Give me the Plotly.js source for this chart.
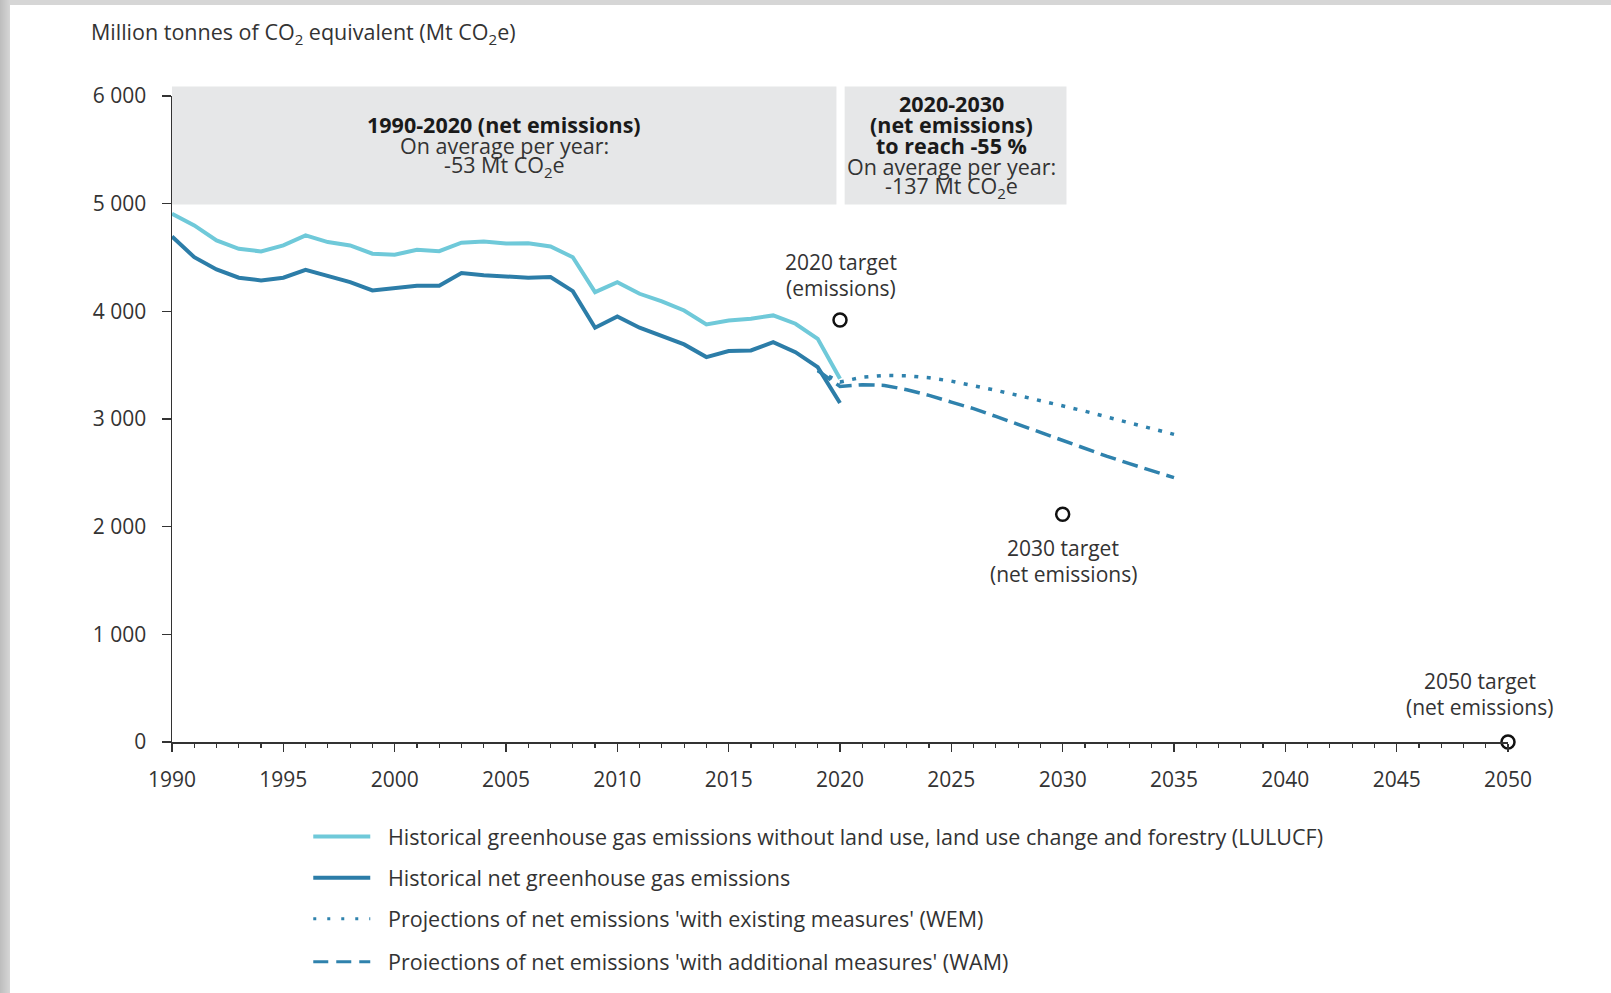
<!DOCTYPE html>
<html>
<head>
<meta charset="utf-8">
<script src="https://cdn.plot.ly/plotly-3.0.1.min.js"></script>
<style>
  html, body { margin: 0; padding: 0; }
  body { width: 1611px; height: 993px; background: linear-gradient(to right, #bdbdbd 0px, #d6d6d6 10px, #d6d6d6 100%); position: relative; overflow: hidden; }
  #chart { position: absolute; left: 10px; top: 5px; width: 1601px; height: 988px; background: #fff; }
</style>
</head>
<body>
<div id="chart"></div>
<script>
// ---------------- data ----------------
const histYears = [1990,1991,1992,1993,1994,1995,1996,1997,1998,1999,2000,2001,2002,2003,2004,2005,2006,2007,2008,2009,2010,2011,2012,2013,2014,2015,2016,2017,2018,2019,2020];
const withoutLULUCF = [4906,4798,4659,4581,4556,4612,4705,4643,4612,4535,4525,4572,4559,4637,4649,4630,4633,4603,4503,4178,4271,4163,4092,4008,3878,3915,3931,3962,3885,3745,3374];
const netEmissions = [4695,4503,4389,4312,4287,4312,4386,4324,4271,4194,4219,4237,4237,4355,4336,4324,4312,4318,4188,3848,3953,3848,3770,3693,3575,3631,3637,3714,3621,3482,3148];
const projYears = [2019,2020,2021,2022,2023,2024,2025,2026,2027,2028,2029,2030,2031,2032,2033,2034,2035];
const wemProjection = [3450,3343,3389,3405,3402,3383,3352,3312,3266,3219,3173,3126,3073,3018,2962,2910,2857];
const wamProjection = [3450,3303,3318,3312,3272,3219,3157,3096,3024,2950,2869,2801,2723,2653,2585,2516,2455];
const targetYears = [2020, 2030, 2050];
const targetValues = [3920, 2115, 0];
const targetLabels = [["2020 target", "(emissions)"], ["2030 target", "(net emissions)"], ["2050 target", "(net emissions)"]];
const yTickVals = [0, 1000, 2000, 3000, 4000, 5000, 6000];
const yTickText = ["0", "1 000", "2 000", "3 000", "4 000", "5 000", "6 000"];
const xTickVals = [1990,1995,2000,2005,2010,2015,2020,2025,2030,2035,2040,2045,2050];
const seriesNames = [
  "Historical greenhouse gas emissions without land use, land use change and forestry (LULUCF)",
  "Historical net greenhouse gas emissions",
  "Projections of net emissions 'with existing measures' (WEM)",
  "Proiections of net emissions 'with additional measures' (WAM)"
];
const box1Lines = ["<b>1990-2020 (net emissions)</b>", "On average per year:", "-53 Mt CO<sub>2</sub>e"];
const box2Lines = ["<b>2020-2030</b>", "<b>(net emissions)</b>", "<b>to reach -55 %</b>", "On average per year:", "-137 Mt CO<sub>2</sub>e"];
const yTitle = "Million tonnes of CO<sub>2</sub> equivalent (Mt CO<sub>2</sub>e)";

// ---------------- styles ----------------
const LIGHT = "#6fc9d9";
const DARK = "#2c7da8";
const PROJ = "#2f82ad";
const TXT = "#333333";
const FONT = "Open Sans, DejaVu Sans, sans-serif";
const FS = 21;
const FS_TEXT = 21.5;

// plot area in div pixels
const L = 161.7, R = 1498, T = 90.5, B = 736.7;
const W = 1601, H = 988;
const px = x => (x - L) / (R - L);
const py = y => (B - y) / (B - T);

const traces = [
  { x: histYears, y: withoutLULUCF, mode: "lines", line: { color: LIGHT, width: 4 }, name: seriesNames[0], showlegend: false },
  { x: histYears, y: netEmissions, mode: "lines", line: { color: DARK, width: 4 }, name: seriesNames[1], showlegend: false },
  { x: projYears, y: wemProjection, mode: "lines", line: { color: PROJ, width: 3.5, dash: "4px,8.5px" }, name: seriesNames[2], showlegend: false },
  { x: projYears, y: wamProjection, mode: "lines", line: { color: PROJ, width: 3.5, dash: "16px,7px" }, name: seriesNames[3], showlegend: false },
  { x: targetYears, y: targetValues, mode: "markers", cliponaxis: false,
    marker: { symbol: "circle-open", size: 13, color: "#111", line: { width: 2.5, color: "#111" } }, showlegend: false }
];

const shapes = [
  { type: "rect", xref: "paper", yref: "paper", x0: px(161.7), x1: px(826.3), y0: py(199), y1: py(81), fillcolor: "#e6e7e8", line: { width: 0 }, layer: "below" },
  { type: "rect", xref: "paper", yref: "paper", x0: px(834.5), x1: px(1056.4), y0: py(199), y1: py(81), fillcolor: "#e6e7e8", line: { width: 0 }, layer: "below" }
];

const annotations = [];
const ann = (text, x, y, opts) => Object.assign({ text, xref: "paper", yref: "paper", x: px(x), y: py(y), showarrow: false, xanchor: "center", yanchor: "middle", borderpad: 0, font: { family: FONT, size: FS_TEXT, color: TXT } }, opts || {});

annotations.push(ann(yTitle, 79.5, 27, { xanchor: "left" }));

const box1Y = [119, 140.5, 161];
box1Lines.forEach((t, i) => annotations.push(ann(t, 494, box1Y[i], { font: { family: FONT, size: 21.5, color: i === 0 ? "#1a1a1a" : TXT } })));
const box2Y = [98.3, 119.3, 140, 161, 181.5];
box2Lines.forEach((t, i) => annotations.push(ann(t, 941.7, box2Y[i], { font: { family: FONT, size: 21.5, color: i < 3 ? "#1a1a1a" : TXT } })));

const targetPos = [[830.4, 257, 282.7], [1053.4, 542.6, 568.3], [1469.5, 676, 702]];
targetLabels.forEach((lines, i) => {
  annotations.push(ann(lines[0], targetPos[i][0], targetPos[i][1], { font: { family: FONT, size: FS, color: TXT } }));
  annotations.push(ann(lines[1], targetPos[i][0], targetPos[i][2], { font: { family: FONT, size: FS, color: TXT } }));
});

// manual legend
const legendRows = [831.3, 872.4, 913.5, 956.6];
const legendStyles = [
  { color: LIGHT, width: 4, dash: "solid" },
  { color: DARK, width: 4, dash: "solid" },
  { color: PROJ, width: 3, dash: "3px,11px" },
  { color: PROJ, width: 3, dash: "15px,8px" }
];
seriesNames.forEach((name, i) => {
  shapes.push({ type: "line", xref: "paper", yref: "paper", x0: px(303), x1: px(360), y0: py(legendRows[i]), y1: py(legendRows[i]), line: legendStyles[i] });
  annotations.push(ann(name, 377, legendRows[i], { xanchor: "left" }));
});

const layout = {
  width: W, height: H,
  margin: { l: L, r: W - R, t: T, b: H - B, pad: 0 },
  paper_bgcolor: "#ffffff", plot_bgcolor: "rgba(0,0,0,0)",
  font: { family: FONT, size: FS, color: TXT },
  showlegend: false,
  xaxis: {
    range: [1990, 2050], tickmode: "array", tickvals: xTickVals,
    ticks: "outside", ticklen: 8, tickwidth: 1.5, tickcolor: "#333",
    showline: true, linecolor: "#333", linewidth: 1.5,
    showgrid: false, zeroline: false,
    tickfont: { family: FONT, size: FS, color: TXT },
    ticklabelstandoff: 10,
    minor: { dtick: 1, ticks: "outside", ticklen: 4, tickwidth: 1.2, tickcolor: "#333", showgrid: false }
  },
  yaxis: {
    range: [0, 6000], tickmode: "array", tickvals: yTickVals, ticktext: yTickText,
    ticks: "outside", ticklen: 9, tickwidth: 1.5, tickcolor: "#333",
    showline: true, linecolor: "#333", linewidth: 1.5,
    showgrid: false, zeroline: false,
    tickfont: { family: FONT, size: FS, color: TXT },
    ticklabelstandoff: 11
  },
  shapes, annotations
};

Plotly.newPlot("chart", traces, layout, { displayModeBar: false, staticPlot: true });
</script>
</body>
</html>
